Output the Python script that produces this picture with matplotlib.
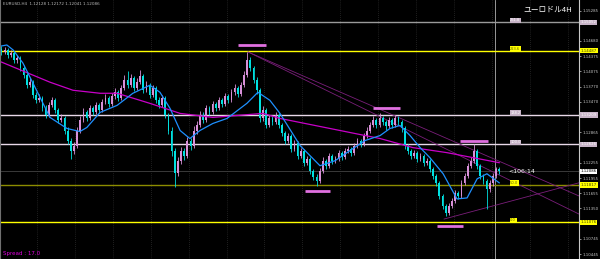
import numpy as np
import matplotlib.pyplot as plt
from matplotlib.transforms import blended_transform_factory

# EURUSD H4 candles, oldest first
first_open = 1.1452
closes = [1.1446, 1.1450, 1.1440, 1.1444, 1.1430, 1.1434, 1.1414, 1.1400, 1.1380, 1.1386,
          1.1360, 1.1350, 1.1354, 1.1334, 1.1320, 1.1340, 1.1350, 1.1330, 1.1310, 1.1314,
          1.1290, 1.1270, 1.1250, 1.1260, 1.1290, 1.1310, 1.1326, 1.1314, 1.1334, 1.1326,
          1.1340, 1.1330, 1.1346, 1.1354, 1.1342, 1.1358, 1.1366, 1.1354, 1.1374, 1.1390,
          1.1380, 1.1394, 1.1374, 1.1386, 1.1398, 1.1370, 1.1380, 1.1360, 1.1374, 1.1350,
          1.1340, 1.1354, 1.1320, 1.1290, 1.1250, 1.1206, 1.1230, 1.1250, 1.1240, 1.1270,
          1.1260, 1.1290, 1.1300, 1.1320, 1.1310, 1.1334, 1.1326, 1.1342, 1.1334, 1.1350,
          1.1342, 1.1358, 1.1350, 1.1366, 1.1374, 1.1362, 1.1380, 1.1400, 1.1430, 1.1414,
          1.1390, 1.1370, 1.1314, 1.1330, 1.1300, 1.1314, 1.1306, 1.1320, 1.1300, 1.1286,
          1.1270, 1.1280, 1.1254, 1.1266, 1.1240, 1.1250, 1.1226, 1.1234, 1.1210, 1.1198,
          1.1190, 1.1210, 1.1230, 1.1220, 1.1240, 1.1230, 1.1234, 1.1246, 1.1238, 1.1250,
          1.1254, 1.1246, 1.1260, 1.1270, 1.1264, 1.1280, 1.1290, 1.1300, 1.1310, 1.1300,
          1.1314, 1.1306, 1.1298, 1.1310, 1.1300, 1.1314, 1.1306, 1.1294, 1.1260, 1.1250,
          1.1240, 1.1246, 1.1234, 1.1240, 1.1226, 1.1230, 1.1214, 1.1200, 1.1186, 1.1160,
          1.1140, 1.1126, 1.1140, 1.1150, 1.1166, 1.1160, 1.1186, 1.1200, 1.1220, 1.1230,
          1.1250, 1.1220, 1.1200, 1.1190, 1.1174, 1.1186, 1.1200, 1.1213, 1.1209]
highs = [1.1458, 1.1456, 1.1454, 1.1450, 1.1448, 1.1440, 1.1438, 1.1420, 1.1404, 1.1394,
         1.1390, 1.1366, 1.1362, 1.1358, 1.1340, 1.1346, 1.1356, 1.1354, 1.1334, 1.1322,
         1.1318, 1.1296, 1.1276, 1.1268, 1.1296, 1.1318, 1.1334, 1.1330, 1.1340, 1.1338,
         1.1346, 1.1344, 1.1352, 1.1362, 1.1358, 1.1364, 1.1374, 1.1370, 1.1380, 1.1400,
         1.1408, 1.1402, 1.1398, 1.1394, 1.1410, 1.1402, 1.1388, 1.1384, 1.1380, 1.1378,
         1.1356, 1.1360, 1.1358, 1.1324, 1.1296, 1.1256, 1.1238, 1.1258, 1.1256, 1.1278,
         1.1276, 1.1298, 1.1308, 1.1328, 1.1326, 1.1340, 1.1338, 1.1348, 1.1346, 1.1356,
         1.1354, 1.1364, 1.1362, 1.1372, 1.1382, 1.1378, 1.1386, 1.1408, 1.1446, 1.1436,
         1.1418, 1.1396, 1.1374, 1.1338, 1.1334, 1.1320, 1.1318, 1.1326, 1.1324, 1.1304,
         1.1290, 1.1286, 1.1284, 1.1272, 1.1270, 1.1256, 1.1254, 1.1240, 1.1238, 1.1214,
         1.1204, 1.1216, 1.1238, 1.1234, 1.1246, 1.1244, 1.1240, 1.1252, 1.1250, 1.1256,
         1.1260, 1.1258, 1.1266, 1.1276, 1.1274, 1.1286, 1.1296, 1.1306, 1.1318, 1.1314,
         1.1324, 1.1318, 1.1310, 1.1316, 1.1314, 1.1320, 1.1318, 1.1310, 1.1298, 1.1264,
         1.1254, 1.1252, 1.1250, 1.1246, 1.1244, 1.1236, 1.1234, 1.1218, 1.1204, 1.1190,
         1.1164, 1.1144, 1.1146, 1.1156, 1.1172, 1.1170, 1.1192, 1.1206, 1.1226, 1.1238,
         1.1264, 1.1254, 1.1224, 1.1204, 1.1194, 1.1192, 1.1206, 1.1218, 1.1217]
lows = [1.1440, 1.1442, 1.1434, 1.1436, 1.1424, 1.1424, 1.1408, 1.1394, 1.1374, 1.1376,
        1.1354, 1.1344, 1.1346, 1.1328, 1.1314, 1.1316, 1.1336, 1.1324, 1.1304, 1.1306,
        1.1284, 1.1264, 1.1234, 1.1244, 1.1256, 1.1286, 1.1306, 1.1308, 1.1310, 1.1320,
        1.1322, 1.1324, 1.1326, 1.1342, 1.1336, 1.1338, 1.1352, 1.1348, 1.1350, 1.1370,
        1.1374, 1.1376, 1.1368, 1.1370, 1.1382, 1.1364, 1.1366, 1.1354, 1.1356, 1.1344,
        1.1334, 1.1336, 1.1314, 1.1284, 1.1240, 1.1178, 1.1200, 1.1224, 1.1232, 1.1236,
        1.1252, 1.1256, 1.1284, 1.1296, 1.1304, 1.1306, 1.1320, 1.1322, 1.1328, 1.1330,
        1.1336, 1.1338, 1.1344, 1.1346, 1.1360, 1.1356, 1.1358, 1.1376, 1.1396, 1.1408,
        1.1384, 1.1362, 1.1306, 1.1308, 1.1294, 1.1296, 1.1300, 1.1302, 1.1294, 1.1280,
        1.1264, 1.1266, 1.1248, 1.1250, 1.1234, 1.1236, 1.1220, 1.1222, 1.1204, 1.1192,
        1.1180, 1.1186, 1.1206, 1.1214, 1.1216, 1.1224, 1.1226, 1.1230, 1.1232, 1.1234,
        1.1246, 1.1240, 1.1242, 1.1256, 1.1258, 1.1260, 1.1276, 1.1286, 1.1296, 1.1294,
        1.1296, 1.1300, 1.1292, 1.1294, 1.1294, 1.1296, 1.1300, 1.1288, 1.1254, 1.1244,
        1.1234, 1.1236, 1.1228, 1.1230, 1.1220, 1.1222, 1.1208, 1.1194, 1.1180, 1.1154,
        1.1134, 1.1120, 1.1122, 1.1136, 1.1146, 1.1154, 1.1156, 1.1182, 1.1196, 1.1216,
        1.1226, 1.1214, 1.1194, 1.1184, 1.1134, 1.1168, 1.1180, 1.1196, 1.1204]
opens = [first_open] + closes[:-1]

# moving averages (bar number, price)
fast_ma_bars = [0, 1.7, 3.7, 6.8, 10, 15.4, 20.8, 24.9, 27.1, 31.3, 36.7, 41.7, 47.1, 50.3,
                53.5, 56.7, 59.8, 63, 67.1, 71.6, 77.9, 81.4, 85.2, 88.4, 94.8, 101.1, 105.9,
                110.6, 115.4, 120.2, 123.3, 126.5, 129.7, 132.9, 136, 140.2, 144.6, 147.8,
                151, 154.1, 158]
fast_ma = [1.1458, 1.1460, 1.1450, 1.1424, 1.1384, 1.1316, 1.1294, 1.1288, 1.1296, 1.1326,
           1.1340, 1.1364, 1.1380, 1.1366, 1.1334, 1.1290, 1.1274, 1.1290, 1.1304, 1.1314,
           1.1344, 1.1366, 1.1350, 1.1324, 1.1260, 1.1220, 1.1230, 1.1250, 1.1270, 1.1280,
           1.1294, 1.1300, 1.1280, 1.1256, 1.1236, 1.1204, 1.1154, 1.1156, 1.1194, 1.1204,
           1.1186]
slow_ma_bars = [0, 15.4, 22.7, 31.3, 36.7, 47.1, 56.7, 67.1, 83, 88.4, 104.3, 120.2, 130.6,
                141.4, 158]
slow_ma = [1.1426, 1.1386, 1.1370, 1.1364, 1.1364, 1.1344, 1.1324, 1.1316, 1.1324, 1.1314,
           1.1294, 1.1274, 1.1256, 1.1246, 1.1226]

# fibonacci levels
fib_labels = ['261.8', '223.6', '138.2', '100.0', '50.0', '0.0']
fib_prices = [1.15052, 1.14487, 1.13209, 1.12626, 1.11817, 1.11076]
fib_colors = ['#9a9a9a', '#ffff00', '#e8d8e8', '#e8d8e8', '#8c8c00', '#ffff00']
fib_boxes = ['#c8b4c8', '#ffff00', '#c8b4c8', '#c8b4c8', '#ffff00', '#ffff00']

# swing marks (start bar, end bar, price)
marks = [(75.1, 84.0, 1.1459), (118.0, 126.5, 1.1334), (145.6, 154.4, 1.1270),
         (96.3, 104.3, 1.1170), (138.3, 146.5, 1.1100)]
# trend lines (bar, price) -> (bar, price)
trend_lines = [((78.3, 1.1446), (183.3, 1.1160)),
               ((78.3, 1.1446), (183.3, 1.1124)),
               ((140.5, 1.1114), (183.3, 1.1186))]

price_ticks = [1.15285, 1.14680, 1.14375, 1.14075, 1.13770, 1.13470,
               1.12865, 1.12255, 1.11955, 1.11655, 1.11350, 1.10745, 1.10445]
bid = 1.12086

fig = plt.figure(figsize=(6, 2.59), dpi=100, facecolor='black')
ax = fig.add_axes([0, 0, 579 / 600, 1])
ax.set_facecolor('black')
ax.set_xlim(-0.476, 183.33)
ax.set_ylim(1.10346, 1.15494)

n = len(closes)
x = np.arange(n)
o = np.array(opens)
c = np.array(closes)
up = c >= o
col = np.where(up, '#d890d8', '#00e0e0')

# vertical grid
for gx in np.arange(11.3, 183, 12.03):
    ax.axvline(gx, color='#3c3c3c', lw=0.5, ls=(0, (1, 2)), zorder=0)
ax.axvline(156.8, color='#b0b0b0', lw=0.6, zorder=1)
ax.axhline(bid, color='#3a3a3a', lw=0.7, zorder=1)

for p, lc in zip(fib_prices, fib_colors):
    ax.axhline(p, color=lc, lw=1.0, zorder=2)

ax.vlines(x, lows, highs, colors=col, lw=0.6, zorder=3)
body = np.maximum(np.abs(c - o), 0.00008)
ax.bar(x, body, bottom=np.minimum(o, c), width=0.55, color=col, zorder=3)

ax.plot(slow_ma_bars, slow_ma, color='#c800c8', lw=0.9, zorder=4)
ax.plot(fast_ma_bars, fast_ma, color='#1e90ff', lw=0.9, zorder=4)

for (a, b) in trend_lines:
    ax.plot([a[0], b[0]], [a[1], b[1]], color='#7a1e7a', lw=0.6, zorder=2)
for x0, x1, p in marks:
    ax.plot([x0, x1], [p, p], color='#e070e0', lw=2.0, solid_capstyle='butt', zorder=5)

# fib level tags
for lab, p, bc in zip(fib_labels, fib_prices, fib_boxes):
    ax.text(161.5, p, lab, fontsize=2.6, color='#ffffff' if bc != '#ffff00' else '#606000',
            ha='left', va='bottom', zorder=6,
            bbox=dict(facecolor=bc, edgecolor='none', pad=0.4))

ax.text(161.0, bid, '<106:14', fontsize=4.5, color='white', va='center', ha='left')

# price axis
ax.yaxis.tick_right()
ax.set_yticks(price_ticks)
ax.set_yticklabels([f'{t:.5f}' for t in price_ticks])
ax.tick_params(axis='y', colors='#c8c8c8', labelsize=2.8, length=1.5, width=0.5, pad=1.0)
ax.set_xticks([])
for s in ['top', 'bottom']:
    ax.spines[s].set_visible(False)
ax.spines['right'].set_color('#c8c8c8')
ax.spines['right'].set_linewidth(0.8)
ax.spines['left'].set_color('#707070')
ax.spines['left'].set_linewidth(0.8)

tr = blended_transform_factory(ax.transAxes, ax.transData)
for p, bc, tc in [(fib_prices[0], '#c8b4c8', 'white'), (fib_prices[2], '#c8b4c8', 'white'),
                  (fib_prices[3], '#c8b4c8', 'white'), (fib_prices[1], '#ffff00', '#404000'),
                  (fib_prices[4], '#ffff00', '#404000'), (fib_prices[5], '#ffff00', '#404000'),
                  (bid, 'white', 'black')]:
    ax.text(1.003, p, f'{p:.5f}', transform=tr, fontsize=2.8, color=tc, va='center',
            ha='left', clip_on=False, zorder=7,
            bbox=dict(facecolor=bc, edgecolor='none', pad=0.4))

fig.text(3 / 600, 1 - 4 / 259, 'EURUSD,H4  1.12128 1.12172 1.12041 1.12086',
         fontsize=3.0, color='#b8b8b8', va='center', ha='left')
fig.text(548 / 600, 1 - 10 / 259, 'ユーロドル4H', fontsize=5.6, color='white',
         va='center', ha='center', family=['Noto Sans CJK JP', 'DejaVu Sans'])
fig.text(3 / 600, 1 - 254 / 259, 'Spread : 17.0', fontsize=4.0, color='#e000e0',
         va='center', ha='left')

fig.savefig('out.png', dpi=100, facecolor='black')
